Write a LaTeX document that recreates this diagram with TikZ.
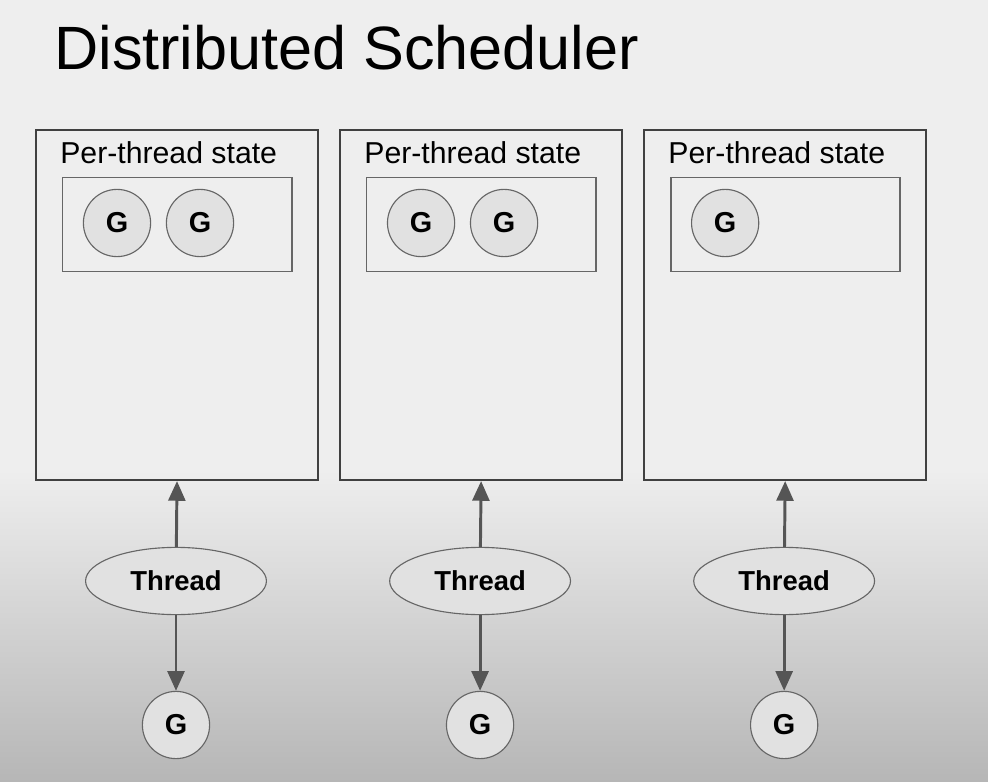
\documentclass[tikz,border=0pt]{standalone}
\usepackage{fontspec}
\setmainfont{Liberation Sans}
\usetikzlibrary{shapes.geometric,arrows.meta}
\definecolor{bgtop}{HTML}{EEEEEE}
\definecolor{bgbot}{HTML}{B6B6B6}
\definecolor{boxline}{HTML}{404040}
\definecolor{gline}{HTML}{666666}
\definecolor{gfill}{HTML}{E1E1E1}
\definecolor{arrowcol}{HTML}{555555}
\tikzset{
  gnode/.style={circle, draw=gline, fill=gfill, line width=0.8pt, inner sep=0pt,
    minimum size=1.68cm, font=\bfseries\fontsize{20.5}{21}\selectfont},
  thread/.style={ellipse, draw=gline, fill=gfill, line width=0.8pt, inner sep=0pt,
    minimum width=4.52cm, minimum height=1.68cm, font=\bfseries\fontsize{19.5}{20}\selectfont},
  link/.style={-{Triangle[length=14pt,width=12pt]}, draw=arrowcol, line width=2.1pt}
}
\begin{document}
\begin{tikzpicture}[x=0.025cm, y=-0.025cm]
  \useasboundingbox (0,0) rectangle (988,782);
  \fill[bgtop] (0,0) rectangle (988,782);
  \shade[top color=bgtop, bottom color=bgbot] (0,470) rectangle (988,782);

  \node[anchor=base west, inner sep=0pt, font=\fontsize{43.5}{48}\selectfont] (title) at (54,70) {Distributed Scheduler};

  \foreach \i/\n in {0/2,1/2,2/1} {
    \begin{scope}[xshift=\i*7.6cm]
      \node[draw=boxline, line width=1.4pt, anchor=north west, inner sep=0pt,
        minimum width=7.05cm, minimum height=8.75cm] (state\i) at (35,129) {};
      \node[anchor=base west, inner sep=0pt, font=\fontsize{21.5}{22}\selectfont] (label\i) at (60,163) {Per-thread state};
      \node[draw=gline, line width=1pt, anchor=north west, inner sep=0pt,
        minimum width=5.73cm, minimum height=2.35cm] (queue\i) at (62,177) {};
      \foreach \k in {1,...,\n}
        \node[gnode] (g\i\k) at (34+83*\k,223) {G};

      \node[thread] (thread\i) at (176,581) {Thread};
      \node[gnode] (run\i) at (176,725) {G};
      \draw[link] (thread\i) -- (state\i.south);
      \draw[link] (thread\i) -- (run\i);
    \end{scope}
  }
\end{tikzpicture}
\end{document}
